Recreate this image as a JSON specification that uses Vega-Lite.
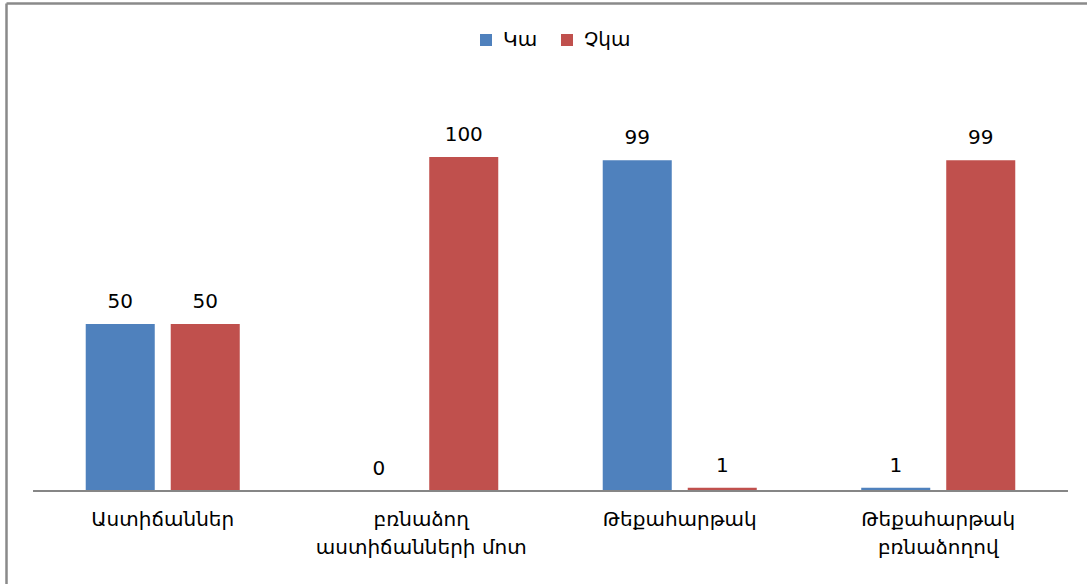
{
  "$schema": "https://vega.github.io/schema/vega-lite/v6.json",
  "width": 1081,
  "height": 581,
  "autosize": {"type": "none"},
  "padding": {"left": 6, "top": 3, "right": 0, "bottom": 0},
  "background": "white",
  "config": {
    "view": {"stroke": null},
    "font": "DejaVu Sans",
    "axis": {"grid": false, "ticks": false, "title": null}
  },
  "data": {
    "values": [
      {"cat": "Աստիճաններ", "series": "Կա", "value": 50},
      {"cat": "Աստիճաններ", "series": "Չկա", "value": 50},
      {"cat": "բռնաձող|աստիճանների մոտ", "series": "Կա", "value": 0},
      {"cat": "բռնաձող|աստիճանների մոտ", "series": "Չկա", "value": 100},
      {"cat": "Թեքահարթակ", "series": "Կա", "value": 99},
      {"cat": "Թեքահարթակ", "series": "Չկա", "value": 1},
      {"cat": "Թեքահարթակ|բռնաձողով", "series": "Կա", "value": 1},
      {"cat": "Թեքահարթակ|բռնաձողով", "series": "Չկա", "value": 99}
    ]
  },
  "resolve": {"axis": {"x": "independent"}},
  "layer": [
    {
      "mark": {"type": "bar"},
      "encoding": {
        "x": {
          "field": "cat",
          "type": "nominal",
          "sort": null,
          "scale": {"paddingInner": 0, "paddingOuter": 0.0909, "align": 0.585},
          "axis": {
            "orient": "bottom",
            "offset": -93,
            "domain": false,
            "labelAngle": 0,
            "labelPadding": 18,
            "labelFontSize": 20,
            "labelColor": "#000000",
            "labelLineHeight": 28,
            "labelBaseline": "top",
            "labelLimit": 0,
            "labelExpr": "split(datum.label, '|')"
          }
        },
        "xOffset": {
          "field": "series",
          "type": "nominal",
          "sort": ["Կա", "Չկա"],
          "scale": {"paddingInner": 0.188, "paddingOuter": 0.6145}
        },
        "y": {
          "field": "value",
          "type": "quantitative",
          "scale": {"domain": [-27.84, 146.11], "nice": false, "zero": false},
          "axis": {
            "orient": "left",
            "labels": false,
            "domain": true,
            "domainColor": "#8a8a8a",
            "domainWidth": 2.5
          }
        },
        "y2": {"datum": 0},
        "color": {
          "field": "series",
          "type": "nominal",
          "sort": ["Կա", "Չկա"],
          "scale": {"domain": ["Կա", "Չկա"], "range": ["#4f81bd", "#c0504d"]},
          "legend": {
            "title": null,
            "orient": "none",
            "legendX": 470,
            "legendY": 27,
            "direction": "horizontal",
            "symbolType": "square",
            "symbolSize": 144,
            "symbolStrokeWidth": 0,
            "labelFontSize": 20,
            "labelColor": "#000000",
            "labelOffset": 7,
            "columnPadding": 19
          }
        }
      }
    },
    {
      "mark": {"type": "text", "baseline": "bottom", "dy": -12, "fontSize": 20, "color": "#000000"},
      "encoding": {
        "x": {"field": "cat", "type": "nominal", "sort": null, "axis": null},
        "xOffset": {"field": "series", "type": "nominal", "sort": ["Կա", "Չկա"]},
        "y": {"field": "value", "type": "quantitative"},
        "text": {"field": "value", "type": "quantitative"}
      }
    },
    {
      "mark": {"type": "rule", "color": "#868686", "strokeWidth": 1.5},
      "encoding": {
        "x": {
          "datum": "Աստիճաններ",
          "bandPosition": 0,
          "axis": {
            "orient": "top",
            "labels": false,
            "domain": true,
            "domainColor": "#8a8a8a",
            "domainWidth": 2.5
          }
        },
        "x2": {"datum": "Թեքահարթակ|բռնաձողով", "bandPosition": 1},
        "y": {"datum": 0}
      }
    }
  ]
}
